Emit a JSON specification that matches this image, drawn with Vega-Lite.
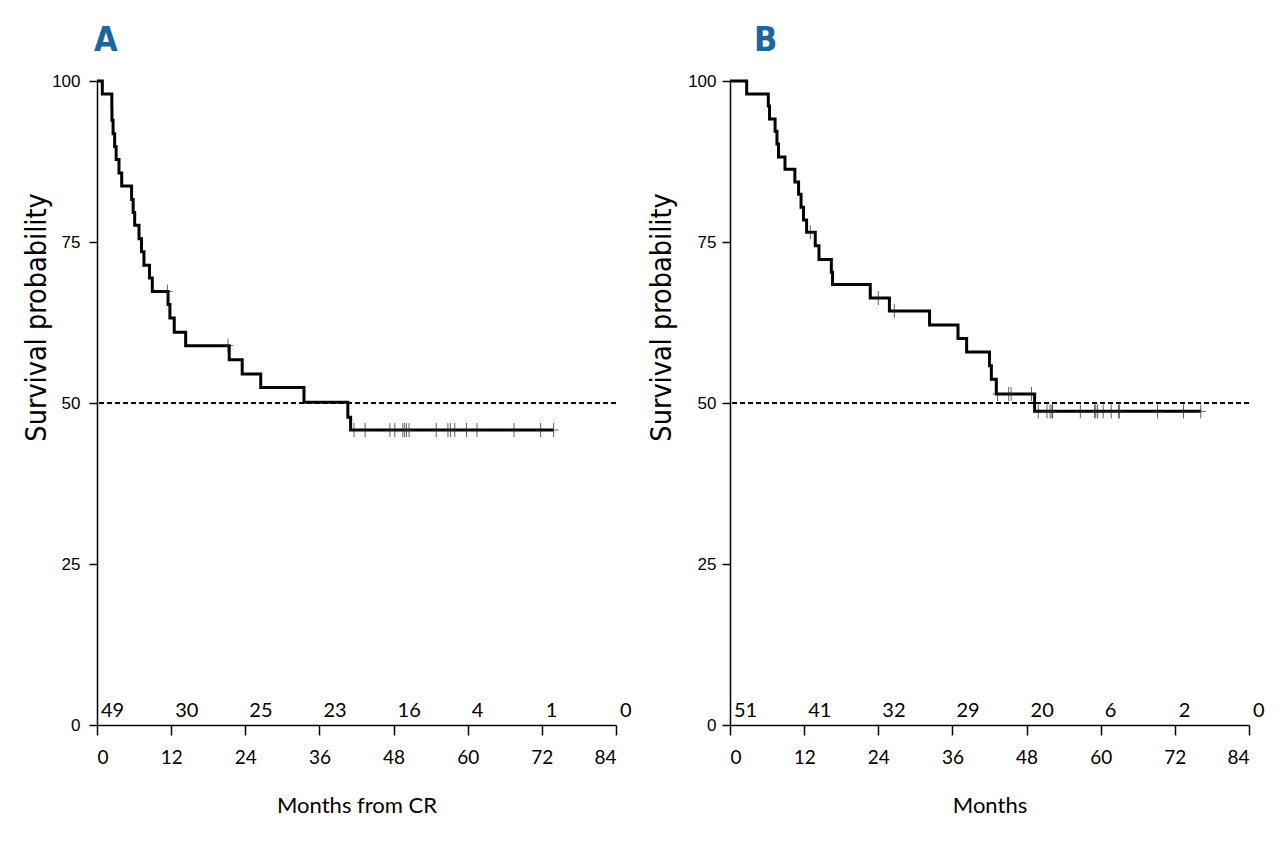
{
  "$schema": "https://vega.github.io/schema/vega-lite/v6.json",
  "background": "white",
  "padding": {"left": 22, "top": 24, "right": 5, "bottom": 5},
  "spacing": 15,
  "config": {
    "view": {"stroke": null},
    "axis": {"grid": false, "domainColor": "black", "tickColor": "black", "labelColor": "black", "titleColor": "black", "titleFontWeight": "normal", "domainWidth": 1.5, "tickWidth": 1.5},
    "title": {"anchor": "start", "frame": "group", "color": "#1b65a0", "fontSize": 34, "font": "Liberation Sans Narrow, DejaVu Sans Condensed, sans-serif", "fontWeight": "bold", "offset": 14}
  },
  "datasets": {
    "kmA": [{"t":0,"s":100},{"t":0.86,"s":98.0},{"t":2.4,"s":95.9},{"t":2.42,"s":93.9},{"t":2.6,"s":91.8},{"t":2.86,"s":89.8},{"t":3.1,"s":87.8},{"t":3.56,"s":85.7},{"t":4.0,"s":83.7},{"t":5.6,"s":81.6},{"t":5.85,"s":79.6},{"t":6.1,"s":77.6},{"t":6.8,"s":75.5},{"t":7.2,"s":73.5},{"t":7.6,"s":71.4},{"t":8.5,"s":69.4},{"t":8.95,"s":67.3},{"t":11.5,"s":65.3},{"t":11.8,"s":63.2},{"t":12.5,"s":61.0},{"t":14.35,"s":58.9},{"t":21.4,"s":56.7},{"t":23.5,"s":54.5},{"t":26.5,"s":52.4},{"t":33.5,"s":50.1},{"t":40.6,"s":47.8},{"t":41.05,"s":45.8},{"t":73.9,"s":45.8}],
    "censA": [{"t":11.4,"s":67.3},{"t":21.2,"s":58.9},{"t":41.6,"s":45.8},{"t":43.4,"s":45.8},{"t":47.4,"s":45.8},{"t":48.2,"s":45.8},{"t":49.5,"s":45.8},{"t":49.8,"s":45.8},{"t":50.1,"s":45.8},{"t":50.5,"s":45.8},{"t":54.9,"s":45.8},{"t":56.8,"s":45.8},{"t":57.2,"s":45.8},{"t":57.9,"s":45.8},{"t":59.8,"s":45.8},{"t":61.5,"s":45.8},{"t":67.5,"s":45.8},{"t":71.8,"s":45.8},{"t":73.9,"s":45.8}],
    "riskA": [{"t":0,"n":"49"},{"t":12,"n":"30"},{"t":24,"n":"25"},{"t":36,"n":"23"},{"t":48,"n":"16"},{"t":60,"n":"4"},{"t":72,"n":"1"},{"t":84,"n":"0"}],
    "kmB": [{"t":0,"s":100},{"t":2.7,"s":98.0},{"t":6.2,"s":96.1},{"t":6.4,"s":94.1},{"t":7.3,"s":92.2},{"t":7.6,"s":90.2},{"t":7.85,"s":88.2},{"t":8.9,"s":86.3},{"t":10.5,"s":84.3},{"t":11.1,"s":82.4},{"t":11.5,"s":80.4},{"t":11.9,"s":78.4},{"t":12.4,"s":76.5},{"t":13.8,"s":74.4},{"t":14.4,"s":72.3},{"t":16.4,"s":70.3},{"t":16.6,"s":68.4},{"t":22.7,"s":66.3},{"t":25.8,"s":64.3},{"t":32.3,"s":62.1},{"t":36.9,"s":60.0},{"t":38.3,"s":57.9},{"t":42.0,"s":55.8},{"t":42.3,"s":53.7},{"t":43.1,"s":51.4},{"t":49.3,"s":48.7},{"t":76.2,"s":48.7}],
    "censB": [{"t":13.0,"s":76.5},{"t":24.0,"s":66.3},{"t":26.6,"s":64.3},{"t":43.3,"s":51.4},{"t":45.1,"s":51.4},{"t":45.5,"s":51.4},{"t":48.8,"s":51.4},{"t":49.9,"s":48.7},{"t":51.3,"s":48.7},{"t":51.8,"s":48.7},{"t":52.1,"s":48.7},{"t":52.2,"s":48.7},{"t":56.7,"s":48.7},{"t":59.0,"s":48.7},{"t":59.2,"s":48.7},{"t":59.5,"s":48.7},{"t":60.4,"s":48.7},{"t":61.7,"s":48.7},{"t":62.9,"s":48.7},{"t":63.0,"s":48.7},{"t":69.2,"s":48.7},{"t":73.4,"s":48.7},{"t":76.2,"s":48.7}],
    "riskB": [{"t":0,"n":"51"},{"t":12,"n":"41"},{"t":24,"n":"32"},{"t":36,"n":"29"},{"t":48,"n":"20"},{"t":60,"n":"6"},{"t":72,"n":"2"},{"t":84,"n":"0"}]
  },
  "hconcat": [
    {
      "width": 519, "height": 644,
      "title": {"text": "A", "dx": -3},
      "layer": [
        {"data": {"name": "kmA"}, "mark": {"type": "line", "interpolate": "step-after", "color": "black", "strokeWidth": 3},
         "encoding": {
           "x": {"field": "t", "type": "quantitative", "scale": {"domain": [0, 84], "nice": false},
                 "axis": {"title": "Months from CR", "values": [0,12,24,36,48,60,72,84], "tickSize": 10, "labelPadding": 13, "labelFontSize": 19, "labelFont": "Lato", "titleFont": "Lato", "titleFontSize": 22, "titlePadding": 28}},
           "y": {"field": "s", "type": "quantitative", "scale": {"domain": [0, 100], "nice": false},
                 "axis": {"title": "Survival probability", "values": [0,25,50,75,100], "tickSize": 8, "labelPadding": 9, "labelFontSize": 17, "labelFont": "Liberation Sans", "titleFont": "Liberation Sans Narrow, DejaVu Sans Condensed, sans-serif", "titleFontSize": 28.5, "titleX": -61, "titleY": 236, "titleAlign": "center", "titleBaseline": "middle", "titleAngle": -90}}
         }},
        {"data": {"name": "kmA"}, "mark": {"type": "rule", "strokeDash": [5, 3], "strokeWidth": 1, "color": "black"},
         "encoding": {"y": {"datum": 50}}},
        {"data": {"name": "censA"}, "mark": {"type": "point", "shape": "M0,-1.4L0,1.4M-1,0L1,0", "size": 100, "filled": false, "stroke": "#222", "strokeWidth": 1},
         "encoding": {"x": {"field": "t", "type": "quantitative"}, "y": {"field": "s", "type": "quantitative"}}},
        {"data": {"name": "riskA"}, "mark": {"type": "text", "align": "left", "baseline": "bottom", "dx": 4, "dy": -4, "fontSize": 20, "font": "Lato", "color": "black"},
         "encoding": {"x": {"field": "t", "type": "quantitative"}, "y": {"datum": 0}, "text": {"field": "n"}}}
      ]
    },
    {
      "width": 519, "height": 644,
      "title": {"text": "B", "dx": 24},
      "layer": [
        {"data": {"name": "kmB"}, "mark": {"type": "line", "interpolate": "step-after", "color": "black", "strokeWidth": 3},
         "encoding": {
           "x": {"field": "t", "type": "quantitative", "scale": {"domain": [0, 84], "nice": false},
                 "axis": {"title": "Months", "values": [0,12,24,36,48,60,72,84], "tickSize": 10, "labelPadding": 13, "labelFontSize": 19, "labelFont": "Lato", "titleFont": "Lato", "titleFontSize": 22, "titlePadding": 28}},
           "y": {"field": "s", "type": "quantitative", "scale": {"domain": [0, 100], "nice": false},
                 "axis": {"title": "Survival probability", "values": [0,25,50,75,100], "tickSize": 8, "labelPadding": 6, "labelFontSize": 17, "labelFont": "Liberation Sans", "titleFont": "Liberation Sans Narrow, DejaVu Sans Condensed, sans-serif", "titleFontSize": 28.5, "titleX": -69, "titleY": 236, "titleAlign": "center", "titleBaseline": "middle", "titleAngle": -90}}
         }},
        {"data": {"name": "kmB"}, "mark": {"type": "rule", "strokeDash": [5, 3], "strokeWidth": 1, "color": "black"},
         "encoding": {"y": {"datum": 50}}},
        {"data": {"name": "censB"}, "mark": {"type": "point", "shape": "M0,-1.4L0,1.4M-1,0L1,0", "size": 100, "filled": false, "stroke": "#222", "strokeWidth": 1},
         "encoding": {"x": {"field": "t", "type": "quantitative"}, "y": {"field": "s", "type": "quantitative"}}},
        {"data": {"name": "riskB"}, "mark": {"type": "text", "align": "left", "baseline": "bottom", "dx": 4, "dy": -4, "fontSize": 20, "font": "Lato", "color": "black"},
         "encoding": {"x": {"field": "t", "type": "quantitative"}, "y": {"datum": 0}, "text": {"field": "n"}}}
      ]
    }
  ]
}
